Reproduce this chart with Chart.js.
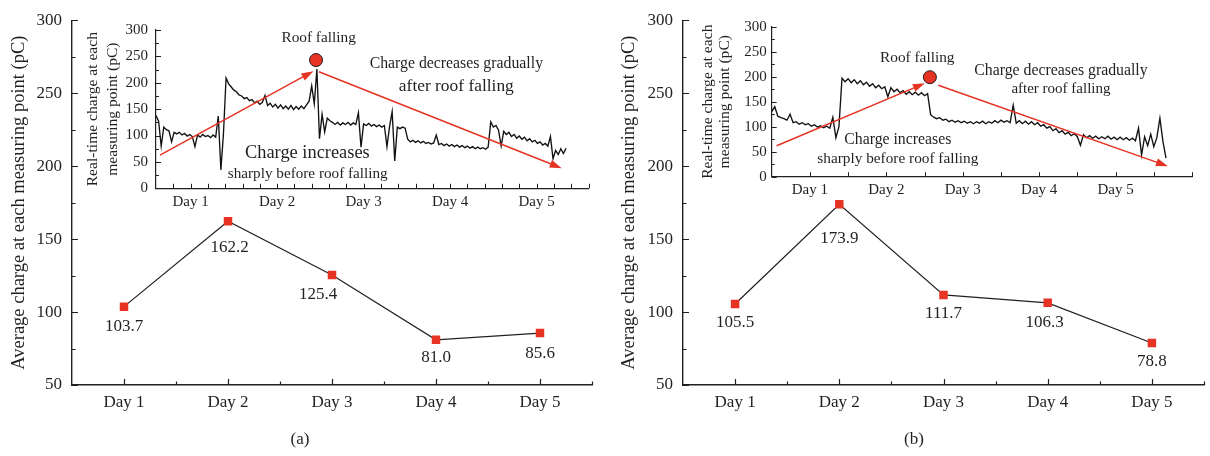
<!DOCTYPE html>
<html>
<head>
<meta charset="utf-8">
<script src="https://cdn.jsdelivr.net/npm/chart.js@4.4.1/dist/chart.umd.min.js"></script>
<style>
html,body{margin:0;padding:0;background:#fff;}
#wrap{position:relative;width:1210px;height:456px;overflow:hidden;background:#fff;}
canvas{position:absolute;}
</style>
</head>
<body>
<div id="wrap">
  <canvas id="mainA" width="600" height="456" style="left:0;top:0"></canvas>
  <canvas id="mainB" width="610" height="456" style="left:600px;top:0"></canvas>
  <canvas id="insetA" width="600" height="230" style="left:0;top:0"></canvas>
  <canvas id="insetB" width="610" height="230" style="left:600px;top:0"></canvas>
</div>
<script>
// ---------------- data ----------------
const days = ['Day 1', 'Day 2', 'Day 3', 'Day 4', 'Day 5'];
const avgChargeA = [103.7, 162.2, 125.4, 81.0, 85.6];
const avgChargeB = [105.5, 173.9, 111.7, 106.3, 78.8];
const mainYTicks = [50, 100, 150, 200, 250, 300];
const insetYTicks = [0, 50, 100, 150, 200, 250, 300];

// real-time charge (pC) sampled every sampleStepA inset tick units, panel (a)
const sampleStepA = 0.15;
const realtimeA = [
  138,127,80,116,111,109,88,106,103,106,
  101,104,99,102,98,79,101,97,102,98,
  100,96,101,97,137,35,104,209,198,192,
  186,183,177,175,170,172,166,168,162,165,
  159,163,176,157,161,154,159,152,158,151,
  156,150,157,149,155,150,156,151,158,165,
  194,160,226,94,140,107,133,128,125,121,
  125,120,124,121,125,120,124,121,143,78,
  122,119,123,118,121,117,120,116,119,79,
  117,145,52,116,113,116,114,93,88,91,
  87,90,86,89,85,87,84,86,101,83,
  85,81,84,80,83,79,82,78,81,77,
  80,76,79,75,78,75,77,74,78,126,
  116,119,110,80,108,102,106,98,102,95,
  99,93,97,90,94,88,91,85,88,82,
  85,80,98,56,72,64,75,66,76
];
// panel (b)
const sampleStepB = 0.08;
const realtimeB = [
  130,140,121,118,116,113,125,108,110,105,
  108,104,106,101,104,99,102,98,101,97,
  119,78,100,197,190,196,188,194,186,192,
  184,189,181,186,178,183,176,180,160,178,
  170,175,168,172,165,170,164,169,163,168,
  162,166,124,119,116,118,113,115,110,113,
  109,112,108,111,107,110,106,110,107,111,
  106,110,107,112,108,113,109,112,108,143,
  107,112,106,111,105,110,104,108,101,104,
  97,100,92,96,88,92,85,89,82,86,
  80,63,84,78,82,77,81,76,80,76,
  81,75,79,74,79,74,78,73,77,72,
  97,43,80,62,85,60,78,117,70,37
];

// ---------------- styles ----------------
const INK = '#231f20';
const RED = '#e63323';
const SERIF = "'Liberation Serif', 'DejaVu Serif', serif";

// ---------------- plugins ----------------
const innerTicks = {
  id: 'innerTicks',
  afterDraw(chart, args, o) {
    const {ctx, chartArea: a, scales} = chart;
    ctx.save();
    ctx.strokeStyle = INK;
    ctx.lineWidth = o.width;
    ctx.beginPath();
    for (const t of o.x) {
      for (const v of t.values) {
        const px = Math.round(scales.x.getPixelForValue(v)) + 0.5;
        ctx.moveTo(px, a.bottom);
        ctx.lineTo(px, a.bottom - t.len);
      }
    }
    for (const t of o.y) {
      for (const v of t.values) {
        const py = Math.round(scales.y.getPixelForValue(v)) + 0.5;
        ctx.moveTo(a.left, py);
        ctx.lineTo(a.left + t.len, py);
      }
    }
    ctx.stroke();
    ctx.restore();
  }
};

const valueLabels = {
  id: 'valueLabels',
  afterDatasetsDraw(chart, args, o) {
    const {ctx} = chart;
    const meta = chart.getDatasetMeta(0);
    const vals = chart.data.datasets[0].data;
    ctx.save();
    ctx.font = o.size + 'px ' + SERIF;
    ctx.fillStyle = INK;
    ctx.textAlign = 'center';
    ctx.textBaseline = 'middle';
    meta.data.forEach((pt, i) => {
      const off = o.offsets[i];
      ctx.fillText(Number(vals[i]).toFixed(1), pt.x + off[0], pt.y + off[1]);
    });
    ctx.restore();
  }
};

const caption = {
  id: 'caption',
  afterDraw(chart, args, o) {
    const {ctx} = chart;
    ctx.save();
    ctx.font = o.size + 'px ' + SERIF;
    ctx.fillStyle = INK;
    ctx.textAlign = 'center';
    ctx.textBaseline = 'middle';
    ctx.fillText(o.text, o.x, o.y);
    ctx.restore();
  }
};

const insetNotes = {
  id: 'insetNotes',
  afterDatasetsDraw(chart, args, o) {
    const {ctx, scales: {x, y}} = chart;
    const P = p => [x.getPixelForValue(p[0]), y.getPixelForValue(p[1])];
    ctx.save();
    ctx.strokeStyle = RED;
    ctx.fillStyle = RED;
    ctx.lineWidth = 1.5;
    for (const ar of o.arrows) {
      const [x1, y1] = P(ar.from), [x2, y2] = P(ar.to);
      const ang = Math.atan2(y2 - y1, x2 - x1);
      const L = 12, W = 4;
      const bx = x2 - L * Math.cos(ang), by = y2 - L * Math.sin(ang);
      ctx.beginPath(); ctx.moveTo(x1, y1); ctx.lineTo(bx + 2 * Math.cos(ang), by + 2 * Math.sin(ang)); ctx.stroke();
      ctx.beginPath();
      ctx.moveTo(x2, y2);
      ctx.lineTo(bx + W * Math.sin(ang), by - W * Math.cos(ang));
      ctx.lineTo(bx - W * Math.sin(ang), by + W * Math.cos(ang));
      ctx.closePath(); ctx.fill();
    }
    const [cx, cy] = P(o.marker.at);
    ctx.beginPath(); ctx.arc(cx, cy, o.marker.r, 0, Math.PI * 2);
    ctx.fillStyle = RED; ctx.fill();
    ctx.lineWidth = 1; ctx.strokeStyle = INK; ctx.stroke();
    ctx.fillStyle = INK;
    ctx.textAlign = 'center';
    ctx.textBaseline = 'middle';
    for (const t of o.texts) {
      const [tx, ty] = P(t.at);
      ctx.font = t.size + 'px ' + SERIF;
      ctx.fillText(t.text, tx, ty);
    }
    ctx.restore();
  }
};

// ---------------- main charts ----------------
function mainChart(id, values, L) {
  return new Chart(document.getElementById(id), {
    type: 'line',
    data: {
      labels: days,
      datasets: [{
        data: values,
        borderColor: INK, borderWidth: 1.2, tension: 0,
        pointStyle: 'rect', pointRadius: 6, pointHoverRadius: 6,
        pointBackgroundColor: RED, pointBorderColor: RED, pointBorderWidth: 0
      }]
    },
    options: {
      responsive: false, animation: false, events: [],
      layout: {padding: {left: 0, top: L.top, right: L.right, bottom: 0}},
      plugins: {
        legend: {display: false}, tooltip: {enabled: false},
        innerTicks: {
          width: 1.2,
          x: [{values: [0, 1, 2, 3, 4], len: 6}, {values: [0.5, 1.5, 2.5, 3.5, 4.5], len: 3.5}],
          y: [{values: mainYTicks, len: 6}, {values: [75, 125, 175, 225, 275], len: 3.5}]
        },
        valueLabels: {size: 17, offsets: L.labelOffsets},
        caption: {text: L.caption, x: L.capX, y: 440, size: 17}
      },
      scales: {
        x: {
          type: 'category', offset: true,
          grid: {display: false, drawTicks: false},
          border: {display: true, color: INK, width: 1.4},
          ticks: {color: INK, font: {family: SERIF, size: 17}, padding: 7, autoSkip: false, maxRotation: 0},
          afterFit: s => { s.height = 456 - L.bottom; }
        },
        y: {
          type: 'linear', min: 50, max: 300,
          afterBuildTicks: s => { s.ticks = mainYTicks.map(v => ({value: v})); },
          grid: {display: false, drawTicks: false},
          border: {display: true, color: INK, width: 1.4},
          ticks: {color: INK, font: {family: SERIF, size: 17}, padding: 10},
          title: {
            display: true, text: 'Average charge at each measuring point (pC)', color: INK,
            font: {family: SERIF, size: 18.5}, padding: {top: L.titlePad, bottom: 0}
          },
          afterFit: s => { s.width = L.left; }
        }
      }
    },
    plugins: [innerTicks, valueLabels, caption]
  });
}

mainChart('mainA', avgChargeA, {
  left: 72, top: 16, right: 8, bottom: 385, titlePad: 8, caption: '(a)', capX: 300,
  labelOffsets: [[0, 20], [1.5, 26], [-14, 20], [0, 18], [0, 20]]
});
mainChart('mainB', avgChargeB, {
  left: 83, top: 16, right: 0, bottom: 385, titlePad: 18, caption: '(b)', capX: 314,
  labelOffsets: [[0, 19], [0, 34], [0, 19], [-3, 20], [0, 19]]
});

// ---------------- inset charts ----------------
function insetChart(id, values, step, L) {
  const pts = values.map((v, i) => ({x: i * step, y: v}));
  return new Chart(document.getElementById(id), {
    type: 'line',
    data: {datasets: [{data: pts, borderColor: '#111111', borderWidth: 1.35, pointRadius: 0, tension: 0}]},
    options: {
      responsive: false, animation: false, events: [],
      layout: {padding: {left: 0, top: L.top, right: L.right, bottom: 0}},
      plugins: {
        legend: {display: false}, tooltip: {enabled: false},
        innerTicks: {
          width: 1,
          x: [{values: L.xTickVals, len: 4.5}],
          y: [{values: insetYTicks, len: 5}, {values: [25, 75, 125, 175, 225, 275], len: 3}]
        },
        insetNotes: L.notes
      },
      scales: {
        x: {
          type: 'linear', min: 0, max: L.xmax,
          afterBuildTicks: s => { s.ticks = L.dayPos.map(v => ({value: v})); },
          grid: {display: false, drawTicks: false},
          border: {display: true, color: INK, width: 1.2},
          ticks: {color: INK, font: {family: SERIF, size: 15}, padding: L.xPad, maxRotation: 0,
                  callback: (v, i) => days[i]},
          afterFit: s => { s.height = 230 - L.bottom; }
        },
        y: {
          type: 'linear', min: 0, max: 300,
          afterBuildTicks: s => { s.ticks = insetYTicks.map(v => ({value: v})); },
          grid: {display: false, drawTicks: false},
          border: {display: true, color: INK, width: 1.2},
          ticks: {color: INK, font: {family: SERIF, size: 15}, padding: L.yPad},
          title: {
            display: true, text: ['Real-time charge at each', 'measuring point (pC)'], color: INK,
            font: {family: SERIF, size: 15.6, lineHeight: L.titleLH + 'px'},
            padding: {top: L.titlePad, bottom: 0}
          },
          afterFit: s => { s.width = L.left; }
        }
      }
    },
    plugins: [innerTicks, insetNotes]
  });
}

insetChart('insetA', realtimeA, sampleStepA, {
  left: 156, top: 30, right: 11.5, bottom: 188.3, xmax: 25, xPad: 5, yPad: 8,
  titleLH: 20, titlePad: 83,
  dayPos: [2, 7, 12, 17, 22],
  xTickVals: [1,2,3,4,5,6,7,8,9,10,11,12,13,14,15,16,17,18,19,20,21,22,23,24,25],
  notes: {
    arrows: [{from: [0.23, 63], to: [9.1, 222]}, {from: [9.42, 221], to: [23.45, 38]}],
    marker: {at: [9.25, 243], r: 6.5},
    texts: [
      {text: 'Roof falling', at: [9.4, 284], size: 15.3},
      {text: 'Charge decreases gradually', at: [17.36, 236], size: 15.8},
      {text: 'after roof falling', at: [17.36, 193], size: 17.4},
      {text: 'Charge increases', at: [8.75, 67], size: 18.4},
      {text: 'sharply before roof falling', at: [8.77, 28], size: 15.2}
    ]
  }
});

insetChart('insetB', realtimeB, sampleStepB, {
  left: 171.7, top: 26.7, right: 18, bottom: 176.7, xmax: 11, xPad: 4, yPad: 5,
  titleLH: 17, titlePad: 99,
  dayPos: [1, 3, 5, 7, 9],
  xTickVals: [1,2,3,4,5,6,7,8,9,10,11],
  notes: {
    arrows: [{from: [0.13, 62], to: [4.01, 187]}, {from: [4.36, 183], to: [10.37, 21]}],
    marker: {at: [4.14, 199], r: 6.5},
    texts: [
      {text: 'Roof falling', at: [3.81, 238], size: 15.3},
      {text: 'Charge decreases gradually', at: [7.57, 212], size: 15.8},
      {text: 'after roof falling', at: [7.57, 175], size: 15},
      {text: 'Charge increases', at: [3.30, 73], size: 15.8},
      {text: 'sharply before roof falling', at: [3.30, 35], size: 15.3}
    ]
  }
});
</script>
</body>
</html>
